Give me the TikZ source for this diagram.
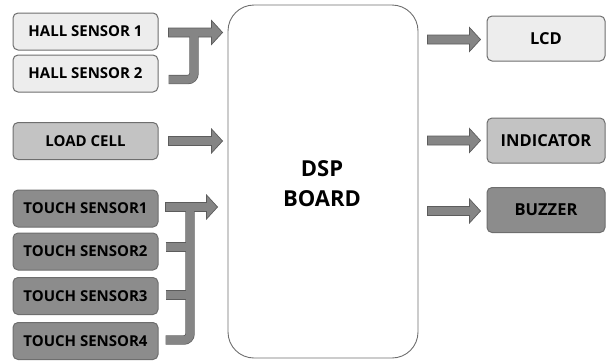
\documentclass[tikz,border=0pt]{standalone}
\usepackage{fontspec}
\setmainfont{Open Sans}
\usetikzlibrary{calc}
\definecolor{cLight}{HTML}{EDEDED}
\definecolor{cMid}{HTML}{C3C3C3}
\definecolor{cDark}{HTML}{8C8C8C}
\definecolor{cBorder}{HTML}{6E6E6E}
\definecolor{aFill}{HTML}{858585}
\definecolor{aLine}{HTML}{5C5C5C}
\tikzset{
  box/.style={draw=cBorder, line width=1pt, rounded corners=5pt, minimum width=145pt, minimum height=37pt, inner sep=0pt, font=\bfseries\fontsize{15}{17}\selectfont},
  rbox/.style={box, minimum width=118pt, minimum height=45pt, font=\bfseries\fontsize{16.5}{18}\selectfont},
  blk/.style={fill=aFill, draw=aLine, line width=0.7pt, line join=miter},
  barout/.style={draw=aLine, line width=9.4pt},
  barin/.style={draw=aFill, line width=8pt},
}
\newcommand\harrow[2]{%
  \path[blk] let \p1=(#1), \p2=(#2) in
    (\x1,\y1+4.5pt) -- (\x2-11pt,\y1+4.5pt) -- (\x2-11pt,\y1+12pt) -- (\x2,\y1)
    -- (\x2-11pt,\y1-12pt) -- (\x2-11pt,\y1-4.5pt) -- (\x1,\y1-4.5pt) -- cycle;}
\begin{document}
\begin{tikzpicture}[x=1pt,y=-1pt]
\useasboundingbox (0,0) rectangle (607,362);
% DSP board
\node[draw=cBorder, line width=0.9pt, rounded corners=26pt, minimum width=190pt, minimum height=353pt, inner sep=0pt] (dsp) at (323,181.5) {};
\node[font=\bfseries\fontsize{22}{30}\selectfont, align=center] (dsplab) at (322,184) {DSP\\BOARD};
% left boxes
\node[box, fill=cLight] (hs1) at (85.5,31.5) {HALL SENSOR 1};
\node[box, fill=cLight] (hs2) at (85.5,73.5) {HALL SENSOR 2};
\node[box, fill=cMid] (lc) at (85.5,141) {LOAD CELL};
\node[box, fill=cDark] (ts1) at (85.5,208.5) {TOUCH SENSOR1};
\node[box, fill=cDark] (ts2) at (85.5,251.5) {TOUCH SENSOR2};
\node[box, fill=cDark] (ts3) at (85.5,296) {TOUCH SENSOR3};
\node[box, fill=cDark] (ts4) at (85.5,341) {TOUCH SENSOR4};
% right boxes
\node[rbox, fill=cLight] (lcd) at (546,38.5) {LCD};
\node[rbox, fill=cMid] (ind) at (546,140.5) {INDICATOR};
\node[rbox, fill=cDark] (buz) at (546,210) {BUZZER};
% connector anchor points
\coordinate (h1s) at ($(hs1.east)+(10,1)$);
\coordinate (h1e) at ($(dsp.west |- hs1.east)+(-5,1)$);
\coordinate (h2s) at ($(hs2.east)+(10,6)$);
\coordinate (hbar) at (194,0);
\coordinate (lcs) at ($(lc.east)+(10,0)$);
\coordinate (lce) at ($(dsp.west |- lc.east)+(-5,0)$);
\coordinate (t1s) at ($(ts1.east)+(7,-1.5)$);
\coordinate (t1e) at ($(dsp.west |- ts1.east)+(-10,-1.5)$);
\coordinate (tbar) at (190,0);
\coordinate (t2s) at ($(ts2.east)+(7,-4.5)$);
\coordinate (t3s) at ($(ts3.east)+(7,-1)$);
\coordinate (t4s) at ($(ts4.east)+(7,-1)$);
% outer strokes of branch bars
\draw[barout, rounded corners=6pt] (h2s) -| ($(hbar |- h1s)$);
\draw[barout, rounded corners=6pt] (t4s) -| ($(tbar |- t1s)$);
\draw[barout] (t2s) -- (tbar |- t2s);
\draw[barout] (t3s) -- (tbar |- t3s);
% block arrows
\harrow{h1s}{h1e}
\harrow{lcs}{lce}
\harrow{t1s}{t1e}
\harrow{$(dsp.east |- lcd.west)+(9,1)$}{$(lcd.west)+(-6,1)$}
\harrow{$(dsp.east |- ind.west)+(9,0)$}{$(ind.west)+(-6,0)$}
\harrow{$(dsp.east |- buz.west)+(9,1)$}{$(buz.west)+(-6,1)$}
% inner strokes
\draw[barin, rounded corners=6pt] ($(h2s)+(0.7,0)$) -| ($(hbar |- h1s)$);
\draw[barin, rounded corners=6pt] ($(t4s)+(0.7,0)$) -| ($(tbar |- t1s)$);
\draw[barin] ($(t2s)+(0.7,0)$) -- (tbar |- t2s);
\draw[barin] ($(t3s)+(0.7,0)$) -- (tbar |- t3s);
\end{tikzpicture}
\end{document}
